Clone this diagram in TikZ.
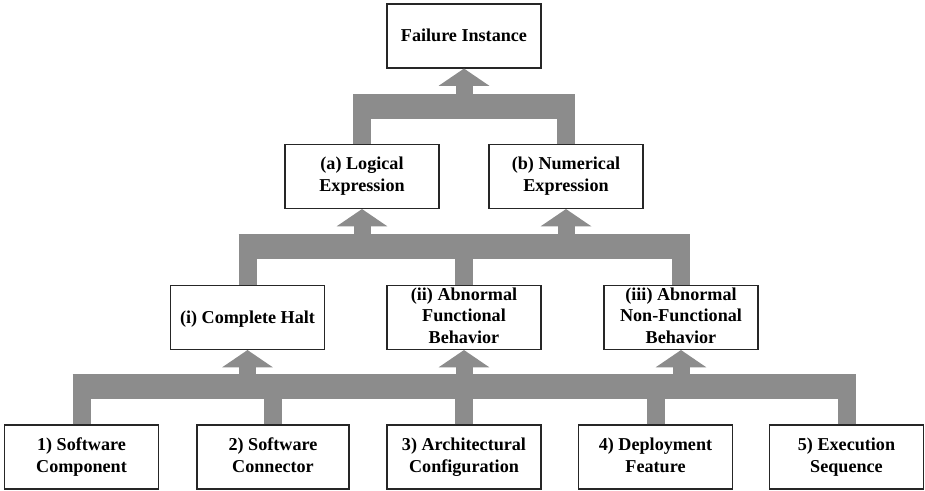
\documentclass[tikz,border=0pt]{standalone}
\usepackage{fontspec}
\setmainfont{Liberation Serif}
\usetikzlibrary{arrows.meta,calc}
\definecolor{bargray}{RGB}{140,140,140}
\tikzset{
  box/.style={draw=black!85, line width=0.8pt, fill=white, align=center,
    minimum width=115.5pt, minimum height=48pt, inner xsep=2pt, inner ysep=0pt,
    font=\fontsize{13.6}{16.2}\selectfont\bfseries,
    execute at begin node={\rule{0pt}{12pt}},
    execute at end node={\rule[-3pt]{0pt}{3pt}}},
  leg/.style={draw=bargray, line width=13.5pt},
  bar/.style={draw=bargray, line width=18.75pt},
  uparrow/.style={draw=bargray, fill=bargray, line width=12.75pt,
    -{Triangle[width=37.5pt, length=13pt]}}
}
\begin{document}
\begin{tikzpicture}[x=0.75pt, y=0.75pt]
  \useasboundingbox (0,0) rectangle (925,490);
  % boxes
  \node[box] (top) at (464,454) {Failure Instance};
  \node[box] (a) at (362,313.5) {(a) Logical\\Expression};
  \node[box] (b) at (566,313.5) {(b) Numerical\\Expression};
  \node[box] (i) at (247.5,172.5) {(i) Complete Halt};
  \node[box] (ii) at (464,172.5) {(ii) Abnormal\\Functional\\Behavior};
  \node[box] (iii) at (681,172.5) {(iii) Abnormal\\Non-Functional\\Behavior};
  \node[box] (b1) at (81.5,33) {1) Software\\Component};
  \node[box, minimum width=114pt] (b2) at (273,33) {2) Software\\Connector};
  \node[box] (b3) at (464,33) {3) Architectural\\Configuration};
  \node[box] (b4) at (655.5,33) {4) Deployment\\Feature};
  \node[box] (b5) at (846.5,33) {5) Execution\\Sequence};
  % bar levels
  \coordinate (lowbar) at (0,103.5);
  \coordinate (midbar) at (0,244);
  \coordinate (topbar) at (0,383);
  % bottom level
  \foreach \n in {b1,b2,b3,b4,b5}
    \draw[leg] (\n.north) -- (\n.north |- lowbar);
  \draw[bar] ($(b1.north |- lowbar)+(-9,0)$) -- ($(b5.north |- lowbar)+(9,0)$);
  \foreach \n in {i,ii,iii}
    \draw[uparrow] (\n.south |- lowbar) -- (\n.south);
  % middle level
  \foreach \n in {i,ii,iii}
    \draw[leg] (\n.north) -- (\n.north |- midbar);
  \draw[bar] ($(i.north |- midbar)+(-9,0)$) -- ($(iii.north |- midbar)+(8.5,0)$);
  \draw[uparrow] (a.south |- midbar) -- (a.south);
  \draw[uparrow] (b.south |- midbar) -- (b.south);
  % top level
  \draw[leg] (a.north) -- (a.north |- topbar);
  \draw[leg] (b.north) -- (b.north |- topbar);
  \draw[bar] ($(a.north |- topbar)+(-9,0)$) -- ($(b.north |- topbar)+(9,0)$);
  \draw[uparrow] (top.south |- topbar) -- (top.south);
\end{tikzpicture}
\end{document}
